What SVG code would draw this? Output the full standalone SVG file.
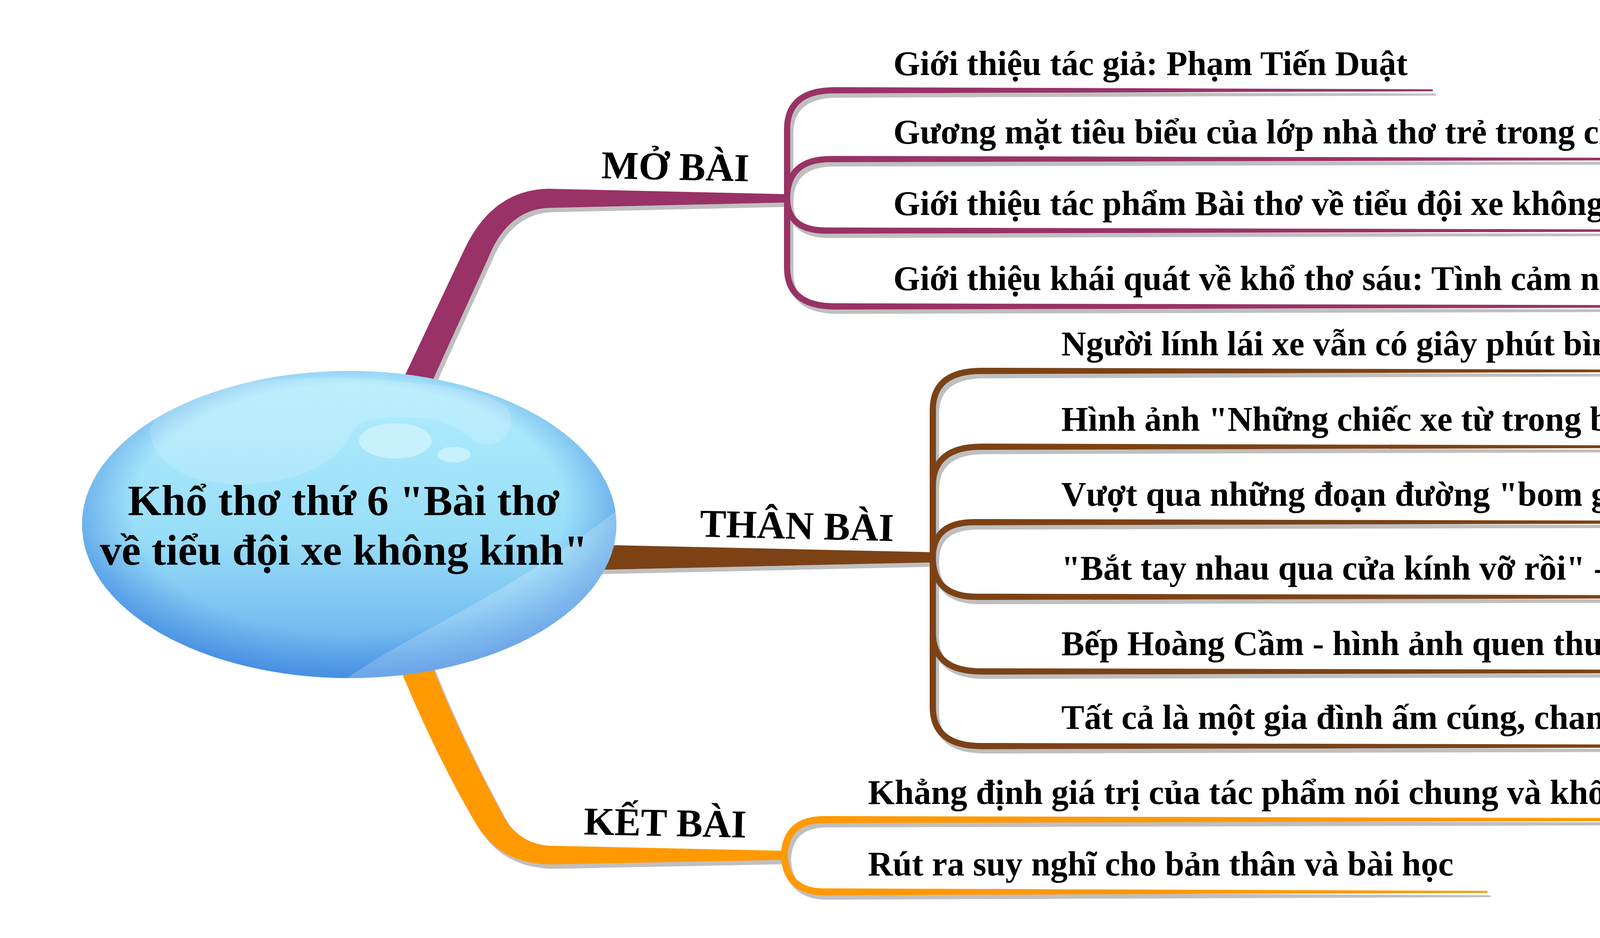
<svg xmlns="http://www.w3.org/2000/svg" width="5334" height="2400" viewBox="0 0 5334 2400">
<defs>
<style>
.pu{fill:#993366}
.br{fill:#7B4213}
.or{fill:#FF9900}
.sp{fill:none;stroke:#993366;stroke-width:16}
.sb{fill:none;stroke:#7B4213;stroke-width:16}
.so{fill:none;stroke:#FF9900;stroke-width:18}
.t{font-family:"Liberation Serif","Times New Roman",serif;font-weight:bold;fill:#000}
.it{font-size:88px}
.lb{font-size:101px}
.ct{font-size:111px;text-anchor:middle}
.hl{fill:#FFFFFF}
</style>
<filter id="sh" x="-5%" y="-5%" width="110%" height="110%">
<feOffset in="SourceAlpha" dx="8" dy="11" result="o"/>
<feFlood flood-color="#BFBFBF"/>
<feComposite in2="o" operator="in" result="s"/>
<feMerge><feMergeNode in="s"/><feMergeNode in="SourceGraphic"/></feMerge>
</filter>
<linearGradient id="gBase" x1="0" y1="0" x2="0" y2="1">
<stop offset="0" stop-color="#B3EEFD"/>
<stop offset="0.55" stop-color="#97DDF8"/>
<stop offset="1" stop-color="#62ABEC"/>
</linearGradient>
<radialGradient id="gEdge" cx="0.5" cy="0.45" r="0.56">
<stop offset="0.72" stop-color="#4A8FE3" stop-opacity="0"/>
<stop offset="1" stop-color="#3F86E0" stop-opacity="0.85"/>
</radialGradient>
<clipPath id="ellClip"><ellipse cx="894" cy="1342" rx="684" ry="393"/></clipPath>
</defs>
<rect width="5334" height="2400" fill="#FFFFFF"/>

<g id="connectors" filter="url(#sh)">
<!-- main branches -->
<path class="pu" d="M 1025,985 L 1188,640 Q 1260,485 1405,483 L 2022,497 L 2022,518 L 1405,532 Q 1300,536 1250,660 L 1100,990 Z"/>
<path class="br" d="M 1350,1390 L 2392,1413 L 2392,1439 L 1350,1462 Z"/>
<path class="or" d="M 1020,1700 C 1080,1850 1160,2010 1220,2110 Q 1280,2210 1409,2212 L 2010,2200 L 2010,2177 L 1409,2164 Q 1330,2160 1290,2090 C 1230,1980 1160,1840 1105,1700 Z"/>
<!-- MỞ BÀI sub-branches -->
<path class="sp" d="M 2015,507 L 2015,331 Q 2015,231 2137,231"/>
<polygon class="pu" points="2137,223 3668,228.5 3668,233.5 2137,239"/>
<path class="sp" d="M 2015,507 Q 2015,407 2127,407"/>
<polygon class="pu" points="2127,399 4490,404.5 4490,409.5 2127,415"/>
<path class="sp" d="M 2015,507 Q 2015,590 2115,590"/>
<polygon class="pu" points="2115,582 4370,587.5 4370,592.5 2115,598"/>
<path class="sp" d="M 2015,507 L 2015,684 Q 2015,784 2137,784"/>
<polygon class="pu" points="2137,776 4525,781.5 4525,786.5 2137,792"/>
<!-- THÂN BÀI sub-branches -->
<path class="sb" d="M 2388,1426 L 2388,1049 Q 2388,949 2513,949"/>
<polygon class="br" points="2513,941 4414,946.5 4414,951.5 2513,957"/>
<path class="sb" d="M 2388,1426 L 2388,1243 Q 2388,1143 2513,1143"/>
<polygon class="br" points="2513,1135 4503,1140.5 4503,1145.5 2513,1151"/>
<path class="sb" d="M 2388,1426 Q 2388,1336 2495,1336"/>
<polygon class="br" points="2495,1328 4727,1333.5 4727,1338.5 2495,1344"/>
<path class="sb" d="M 2388,1426 Q 2388,1527 2500,1527"/>
<polygon class="br" points="2500,1519 5024,1524.5 5024,1529.5 2500,1535"/>
<path class="sb" d="M 2388,1426 L 2388,1618 Q 2388,1718 2513,1718"/>
<polygon class="br" points="2513,1710 5156,1715.5 5156,1720.5 2513,1726"/>
<path class="sb" d="M 2388,1426 L 2388,1809 Q 2388,1909 2513,1909"/>
<polygon class="br" points="2513,1901 4831,1906.5 4831,1911.5 2513,1917"/>
<!-- KẾT BÀI sub-branches -->
<path class="so" d="M 2008,2188 Q 2012,2097 2110,2097"/>
<polygon class="or" points="2110,2088 4685,2094.5 4685,2099.5 2110,2106"/>
<path class="so" d="M 2008,2188 Q 2012,2282 2110,2282"/>
<polygon class="or" points="2110,2273 3808,2279.5 3808,2284.5 2110,2291"/>
</g>

<g id="central">
<ellipse cx="894" cy="1342" rx="684" ry="393" fill="url(#gBase)"/>
<ellipse cx="894" cy="1342" rx="684" ry="393" fill="url(#gEdge)"/>
<g clip-path="url(#ellClip)">
<path class="hl" fill-opacity="0.16" d="M 386,1110 C 380,1040 520,975 760,968 C 1000,962 1290,990 1307,1060 C 1315,1110 1280,1140 1240,1137 C 1200,1130 1170,1075 1083,1070 C 1000,1066 925,1066 904,1100 C 880,1160 800,1238 610,1239 C 470,1238 392,1180 386,1110 Z"/>
<path class="hl" fill-opacity="0.2" d="M 850,1765 C 1000,1640 1300,1530 1600,1290 L 1600,1800 L 850,1800 Z"/>
</g>
<ellipse cx="1012" cy="1128" rx="93" ry="45" fill="#D2F4FD" fill-opacity="0.75"/>
<ellipse cx="1162" cy="1163" rx="42" ry="20" fill="#D2F4FD" fill-opacity="0.75"/>
<text class="t ct" x="880" y="1318">Khổ thơ thứ 6 "Bài thơ</text>
<text class="t ct" x="880" y="1445">về tiểu đội xe không kính"</text>
</g>

<g id="mo-bai"><text class="t lb" x="1539" y="456" transform="rotate(1.2 1539 456)">MỞ BÀI</text></g>
<g id="than-bai"><text class="t lb" x="1791" y="1373" transform="rotate(1.3 1791 1373)">THÂN BÀI</text></g>
<g id="ket-bai"><text class="t lb" x="1494" y="2135" transform="rotate(1.1 1494 2135)">KẾT BÀI</text></g>

<g id="mo-1"><text class="t it" x="2287" y="192">Giới thiệu tác giả: Phạm Tiến Duật</text></g>
<g id="mo-2"><text class="t it" x="2287" y="367">Gương mặt tiêu biểu của lớp nhà thơ trẻ trong chống Mĩ</text></g>
<g id="mo-3"><text class="t it" x="2287" y="550">Giới thiệu tác phẩm Bài thơ về tiểu đội xe không kính</text></g>
<g id="mo-4"><text class="t it" x="2287" y="742">Giới thiệu khái quát về khổ thơ sáu: Tình cảm người lính</text></g>

<g id="than-1"><text class="t it" x="2717" y="909">Người lính lái xe vẫn có giây phút bình yên</text></g>
<g id="than-2"><text class="t it" x="2717" y="1102">Hình ảnh "Những chiếc xe từ trong bom rơi"</text></g>
<g id="than-3"><text class="t it" x="2717" y="1294">Vượt qua những đoạn đường "bom giật, bom rung"</text></g>
<g id="than-4"><text class="t it" x="2717" y="1483">"Bắt tay nhau qua cửa kính vỡ rồi" - cử chỉ thật thân thiện</text></g>
<g id="than-5"><text class="t it" x="2717" y="1676">Bếp Hoàng Cầm - hình ảnh quen thuộc kháng chiến chống Mĩ</text></g>
<g id="than-6"><text class="t it" x="2717" y="1865">Tất cả là một gia đình ấm cúng, chan chứa yêu thương</text></g>

<g id="ket-1"><text class="t it" x="2222" y="2057">Khẳng định giá trị của tác phẩm nói chung và khổ thơ nói riêng</text></g>
<g id="ket-2"><text class="t it" x="2222" y="2240">Rút ra suy nghĩ cho bản thân và bài học</text></g>
</svg>
